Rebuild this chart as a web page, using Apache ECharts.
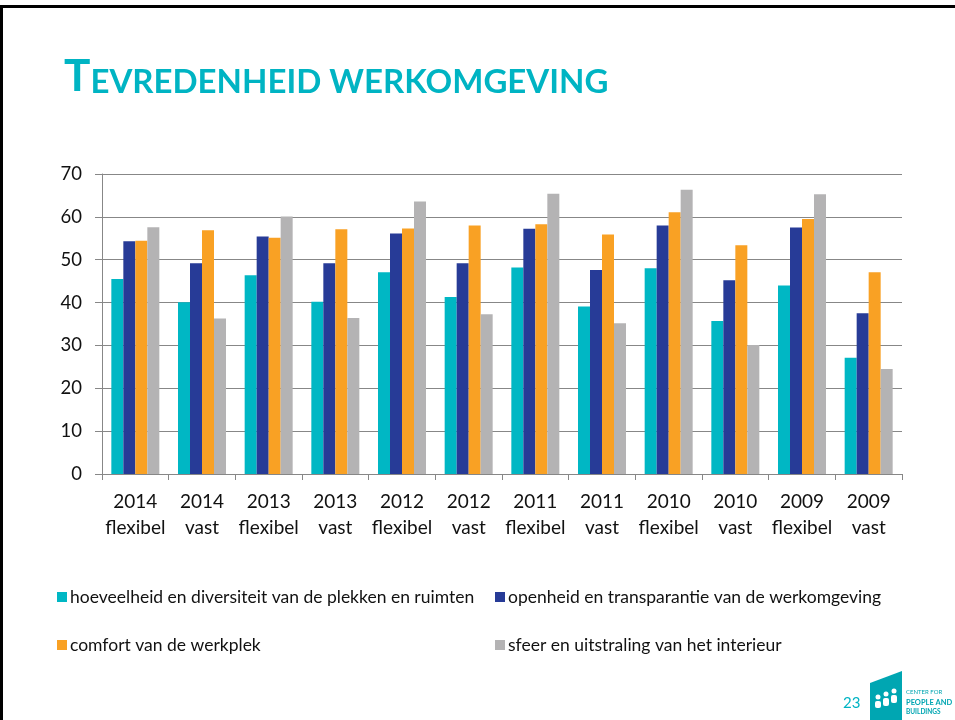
<!DOCTYPE html>
<html>
<head>
<meta charset="utf-8">
<script src="https://cdn.jsdelivr.net/npm/echarts@6/dist/echarts.min.js"></script>
<style>
  html, body { margin: 0; padding: 0; background: #fff; }
  #main { width: 955px; height: 720px; }
</style>
</head>
<body>
<div id="main"></div>
<script>
// categorieen en waarden
var categories = ['2014\nflexibel', '2014\nvast', '2013\nflexibel', '2013\nvast', '2012\nflexibel', '2012\nvast',
    '2011\nflexibel', '2011\nvast', '2010\nflexibel', '2010\nvast', '2009\nflexibel', '2009\nvast'];
var seriesNames = ['hoeveelheid en diversiteit van de plekken en ruimten', 'openheid en transparantie van de werkomgeving',
    'comfort van de werkplek', 'sfeer en uitstraling van het interieur'];
var hoeveelheid = [45.5, 40.1, 46.4, 40.2, 47.1, 41.3, 48.2, 39.1, 48.0, 35.7, 44.0, 27.1];
var openheid = [54.3, 49.2, 55.4, 49.2, 56.1, 49.2, 57.2, 47.6, 58.0, 45.2, 57.5, 37.5];
var comfort = [54.4, 56.9, 55.1, 57.1, 57.3, 58.0, 58.3, 55.9, 61.1, 53.4, 59.5, 47.1];
var sfeer = [57.6, 36.3, 60.1, 36.4, 63.6, 37.3, 65.4, 35.2, 66.3, 30.1, 65.3, 24.5];
var yTicks = [0, 10, 20, 30, 40, 50, 60, 70];

var colors = ['#00b7c4', '#273b97', '#f9a124', '#b4b3b4'];
var font = 'Lato';

var myChart = echarts.init(document.getElementById('main'));

function legendAt(name, left, top) {
    return {
        data: [name],
        left: left,
        top: top,
        padding: 0,
        icon: 'rect',
        itemWidth: 10,
        itemHeight: 10,
        selectedMode: false,
        textStyle: { fontFamily: font, fontSize: 17.5, color: '#111', padding: [0, 0, 0, -2] }
    };
}

var option = {
    color: colors,
    animation: false,
    title: {
        left: 59,
        top: 50,
        text: '{a|T}{b|EVREDENHEID WERKOMGEVING}',
        textStyle: {
            rich: {
                a: { fontFamily: font, fontWeight: 'bold', fontSize: 44, color: '#00b4c3' },
                b: { fontFamily: font, fontWeight: 'bold', fontSize: 33, color: '#00b4c3', verticalAlign: 'bottom' }
            }
        }
    },
    legend: [
        legendAt(seriesNames[0], 57, 588),
        legendAt(seriesNames[1], 495, 588),
        legendAt(seriesNames[2], 57, 636),
        legendAt(seriesNames[3], 495, 636)
    ],
    grid: {
        left: 102,
        right: 53,
        top: 174,
        bottom: 246
    },
    xAxis: {
        type: 'category',
        data: categories,
        axisLine: { lineStyle: { color: '#878787', width: 1 } },
        axisTick: { show: true, length: 6, lineStyle: { color: '#878787' } },
        axisLabel: { fontFamily: font, fontSize: 19, color: '#111', lineHeight: 26, margin: 15, interval: 0 }
    },
    yAxis: {
        type: 'value',
        min: yTicks[0],
        max: yTicks[yTicks.length - 1],
        interval: 10,
        axisLine: { show: true, lineStyle: { color: '#878787', width: 1 } },
        axisTick: { show: true, length: 7, lineStyle: { color: '#878787' } },
        axisLabel: { fontFamily: font, fontSize: 18.5, color: '#111', margin: 20 },
        splitLine: { lineStyle: { color: '#878787', width: 1 } }
    },
    series: [
        { name: seriesNames[0], type: 'bar', data: hoeveelheid, barWidth: 12, barGap: '0%' },
        { name: seriesNames[1], type: 'bar', data: openheid, barWidth: 12, barGap: '0%' },
        { name: seriesNames[2], type: 'bar', data: comfort, barWidth: 12, barGap: '0%' },
        { name: seriesNames[3], type: 'bar', data: sfeer, barWidth: 12, barGap: '0%' }
    ],
    graphic: [
        // rand van de dia
        { type: 'rect', shape: { x: 0, y: 5, width: 955, height: 3 }, style: { fill: '#000' } },
        { type: 'rect', shape: { x: 0, y: 5, width: 3, height: 715 }, style: { fill: '#000' } },
        // paginanummer
        { type: 'text', left: 843, top: 696, style: { text: '23', fontFamily: font, fontSize: 15, fill: '#00b4c3' } },
        // logo
        { type: 'polygon', shape: { points: [[870, 683], [902, 671], [902, 720], [870, 720]] }, style: { fill: '#00a6b2' } },
        { type: 'circle', shape: { cx: 878, cy: 697, r: 2.5 }, style: { fill: '#fff' } },
        { type: 'circle', shape: { cx: 886, cy: 694, r: 2.5 }, style: { fill: '#fff' } },
        { type: 'circle', shape: { cx: 894, cy: 691, r: 2.5 }, style: { fill: '#fff' } },
        { type: 'rect', shape: { x: 875, y: 701, width: 6, height: 7, r: 2 }, style: { fill: '#fff' } },
        { type: 'rect', shape: { x: 883, y: 698, width: 6, height: 8, r: 2 }, style: { fill: '#fff' } },
        { type: 'rect', shape: { x: 891, y: 695, width: 6, height: 8, r: 2 }, style: { fill: '#fff' } },
        { type: 'text', left: 906, top: 689, style: { text: 'CENTER FOR', fontFamily: font, fontSize: 6, fill: '#00a6b2' } },
        { type: 'text', left: 906, top: 699, style: { text: 'PEOPLE AND', fontFamily: font, fontSize: 7.5, fontWeight: 'bold', fill: '#00a6b2' } },
        { type: 'text', left: 906, top: 708, style: { text: 'BUILDINGS', fontFamily: font, fontSize: 6.5, fontWeight: 'bold', fill: '#00a6b2' } }
    ]
};

myChart.setOption(option);
</script>
</body>
</html>
